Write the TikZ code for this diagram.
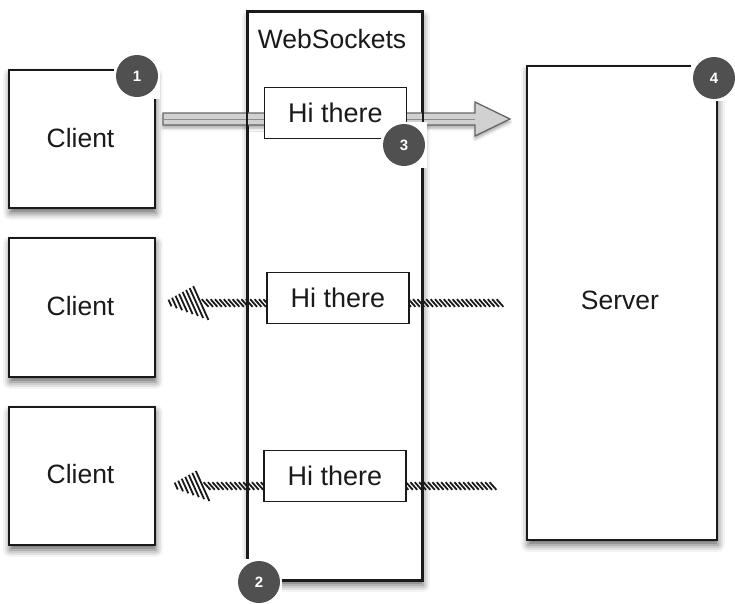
\documentclass[tikz,border=0pt]{standalone}
\usepackage{fontspec}
\setmainfont{Liberation Sans}
\usetikzlibrary{shadows.blur,decorations.markings,calc}
\definecolor{badgegray}{HTML}{505050}
\definecolor{ink}{HTML}{1A1A1A}
\tikzset{
  box/.style={draw=ink, line width=1.6pt, fill=white, inner sep=0pt,
    blur shadow={shadow xshift=1pt, shadow yshift=-5pt, shadow blur radius=7pt, shadow opacity=60}},
  hibox/.style={draw=ink, line width=1.4pt, fill=white, inner sep=0pt,
    minimum width=142pt, minimum height=51pt, font=\fontsize{27}{29}\selectfont, text=ink},
  lbl/.style={font=\fontsize{26.5}{28}\selectfont, text=ink},
  badgebg/.style={fill=white, minimum size=46pt, inner sep=0pt},
  badge/.style={circle, fill=badgegray, minimum size=42pt, inner sep=0pt,
    text=white, font=\bfseries\fontsize{15}{16}\selectfont},
  hollowarrow/.style={fill=black!18, draw=black!60, line width=1.3pt,
    blur shadow={shadow xshift=0pt, shadow yshift=-3pt, shadow blur radius=3pt, shadow opacity=35}},
  hatcharrow/.style={
    postaction={decorate, decoration={markings,
      mark=between positions 0 and 1 step 4.4pt with {
        \pgfmathsetmacro\dend{\pgfdecoratedpathlength-\pgfkeysvalueof{/pgf/decoration/mark info/distance from start}}
        \pgfmathsetmacro\hh{\dend<34 ? 2+15*\dend/34 : 3.8}
        \pgfmathsetmacro\hx{\dend<34 ? 0.45*\hh : 3.4}
        \draw[line width=1.8pt, ink] (\hx pt,-\hh pt) -- (-\hx pt,\hh pt);
      }}}
  }
}
\begin{document}
\begin{tikzpicture}[x=1pt,y=-1pt]
\useasboundingbox (0,0) rectangle (735,603);

% main boxes
\node[box, minimum width=146pt, minimum height=138pt] (client1) at (82,139) {};
\node[box, minimum width=146pt, minimum height=139pt] (client2) at (82,307.5) {};
\node[box, minimum width=146pt, minimum height=138pt] (client3) at (82,476) {};
\node[box, minimum width=174pt, minimum height=568pt] (ws) at (335,296) {};
\node[box, minimum width=190pt, minimum height=474pt] (server) at (622,303) {};

\node[lbl] (c1t) at (80.5,138) {Client};
\node[lbl] (c2t) at (80.5,306) {Client};
\node[lbl] (c3t) at (80.5,474) {Client};
\node[lbl] (wst) at (332,39) {WebSockets};
\node[lbl] (svt) at (620,300) {Server};

% connector end points
\coordinate (a1s) at (163,119);
\coordinate (a1e) at (510,119);
\coordinate (a2s) at (500,303);
\coordinate (a2e) at (167,303);
\coordinate (a3s) at (493,486);
\coordinate (a3e) at (173,486);

% hollow arrow client -> server
\draw[hollowarrow] ($(a1s)+(0,-6)$) -- ($(a1e)+(-35,-6)$) -- ($(a1e)+(-35,-17)$)
  -- (a1e) -- ($(a1e)+(-35,17)$) -- ($(a1e)+(-35,6)$) -- ($(a1s)+(0,6)$) -- cycle;
\draw[black!45, line width=0.8pt] (a1s) -- ($(a1e)+(-35,0)$);

% hatched arrows server -> clients
\path[hatcharrow] (a2s) -- (a2e);
\path[hatcharrow] (a3s) -- (a3e);

% WebSockets border redrawn over connectors
\draw[draw=ink, line width=1.6pt] (ws.north west) rectangle (ws.south east);

% messages
\node[hibox] (hi1) at (335.5,113) {Hi there};
\node[hibox] (hi2) at (338,298) {Hi there};
\node[hibox] (hi3) at (335,476) {Hi there};

% badges
\node[badgebg] (b1bg) at (137,76) {};
\node[badge] (b1) at (137,76) {1};
\node[badgebg] (b2bg) at (259,582) {};
\node[badge] (b2) at (259,582) {2};
\node[badgebg] (b3bg) at (404,145) {};
\node[badge] (b3) at (404,145) {3};
\node[badgebg] (b4bg) at (714,78) {};
\node[badge] (b4) at (714,78) {4};
\end{tikzpicture}
\end{document}
